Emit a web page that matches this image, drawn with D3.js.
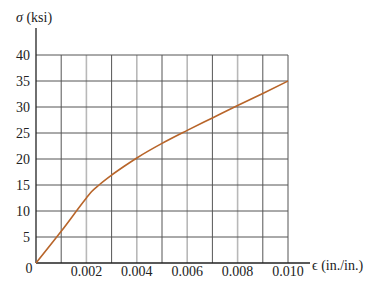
<!DOCTYPE html>
<html>
<head>
<meta charset="utf-8">
<script src="https://cdn.jsdelivr.net/npm/d3@7"></script>
<style>
  body { margin:0; background:#fff; }
</style>
</head>
<body>
<div id="chart"></div>
<script>
// stress-strain readings
var strain = [0, 0.001, 0.002, 0.0022, 0.0025, 0.003, 0.0035, 0.004, 0.005, 0.006, 0.007, 0.008, 0.009, 0.010];
var stress = [0, 6.1, 12.5, 13.7, 15.0, 16.9, 18.6, 20.2, 23.0, 25.5, 27.9, 30.3, 32.6, 35.0];

var xTickLabels = [0.002, 0.004, 0.006, 0.008, 0.010];
var yTickLabels = [5, 10, 15, 20, 25, 30, 35, 40];
var xGrid = [0.001, 0.002, 0.003, 0.004, 0.005, 0.006, 0.007, 0.008, 0.009, 0.010];

var serif = "'Liberation Serif', 'Times New Roman', 'DejaVu Serif', serif";

var W = 377, H = 281;
var svg = d3.select("#chart").append("svg")
  .attr("width", W).attr("height", H)
  .style("font-family", serif);

var x = d3.scaleLinear().domain([0, 0.010]).range([36, 288]);
var y = d3.scaleLinear().domain([0, 40]).range([263, 55]);

// vertical grid lines - alternating tones like the scan
svg.selectAll(".vgrid")
  .data(xGrid)
  .enter()
  .append("line")
  .attr("class", "vgrid")
  .attr("x1", function(d) { return x(d); })
  .attr("x2", function(d) { return x(d); })
  .attr("y1", y(0)).attr("y2", y(40))
  .style("stroke", function(d, i) { return (i % 2 == 1 && i < 9) ? "#b8b8b8" : "#555"; })
  .style("stroke-width", function(d, i) { return (i % 2 == 1 && i < 9) ? 1.6 : 1; });

// horizontal grid lines
svg.selectAll(".hgrid")
  .data(yTickLabels)
  .enter()
  .append("line")
  .attr("class", "hgrid")
  .attr("x1", x(0)).attr("x2", x(0.010))
  .attr("y1", function(d) { return y(d); })
  .attr("y2", function(d) { return y(d); })
  .style("stroke", "#555")
  .style("stroke-width", 1);

// axes
svg.append("line")
  .attr("x1", x(0)).attr("x2", 310)
  .attr("y1", y(0)).attr("y2", y(0))
  .style("stroke", "#222").style("stroke-width", 1.3);
svg.append("line")
  .attr("x1", x(0)).attr("x2", x(0))
  .attr("y1", y(0)).attr("y2", 28)
  .style("stroke", "#222").style("stroke-width", 1.3);

// tick labels
svg.selectAll(".xlab")
  .data(xTickLabels)
  .enter()
  .append("text")
  .attr("class", "xlab")
  .attr("x", function(d) { return x(d); })
  .attr("y", 276)
  .attr("text-anchor", "middle")
  .style("font-family", serif)
  .style("font-size", "14px")
  .style("fill", "#222")
  .text(function(d) { return d3.format(".3f")(d); });

svg.selectAll(".ylab")
  .data(yTickLabels)
  .enter()
  .append("text")
  .attr("class", "ylab")
  .attr("x", 30)
  .attr("y", function(d) { return y(d) + 5; })
  .attr("text-anchor", "end")
  .style("font-family", serif)
  .style("font-size", "14px")
  .style("fill", "#222")
  .text(function(d) { return d; });

svg.append("text")
  .attr("x", 29).attr("y", 273)
  .attr("text-anchor", "middle")
  .style("font-family", serif)
  .style("font-size", "14px").style("fill", "#222")
  .text("0");

// axis titles
var yt = svg.append("text")
  .attr("x", 16).attr("y", 22)
  .style("font-family", serif)
  .style("font-size", "14px").style("fill", "#222");
yt.append("tspan").style("font-style", "italic").text("σ");
yt.append("tspan").text(" (ksi)");

svg.append("text")
  .attr("x", 312).attr("y", 270)
  .style("font-family", serif)
  .style("font-size", "14px").style("fill", "#222")
  .text("ϵ (in./in.)");

// the curve
var line = d3.line()
  .x(function(d, i) { return x(strain[i]); })
  .y(function(d, i) { return y(stress[i]); })
  .curve(d3.curveMonotoneX);

svg.append("path")
  .datum(stress)
  .attr("d", line)
  .style("fill", "none")
  .style("stroke", "#b8652a")
  .style("stroke-width", 1.6);
</script>
</body>
</html>
